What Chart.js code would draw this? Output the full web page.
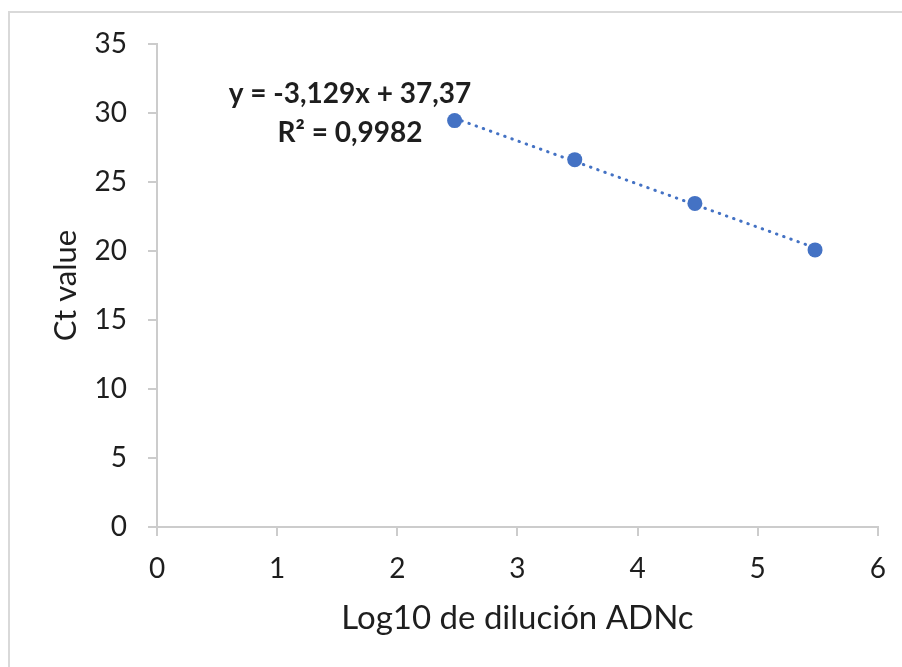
<!DOCTYPE html>
<html>
<head>
<meta charset="utf-8">
<script src="https://cdn.jsdelivr.net/npm/chart.js@4.4.1/dist/chart.umd.min.js"></script>
<style>
  html, body { margin: 0; padding: 0; background: #fff; }
  canvas { display: block; }
</style>
</head>
<body>
<canvas id="c" width="902" height="667"></canvas>
<script>
// Standard curve: log10 of the cDNA dilution vs. Ct value
const logDilution = [2.477, 3.477, 4.477, 5.477];
const ctValues = [29.45, 26.62, 23.45, 20.08];

// Linear fit reported for the curve
const fitSlope = -3.129;
const fitIntercept = 37.37;
const fitR2 = 0.9982;

const xTickValues = [0, 1, 2, 3, 4, 5, 6];
const yTickValues = [0, 5, 10, 15, 20, 25, 30, 35];

const xTitle = 'Log10 de dilución ADNc';
const yTitle = 'Ct value';

const BLUE = '#4472C4';
const AXIS = '#cccccc';
const TEXT = '#1e1e1e';
const FONT = 'Lato, "Open Sans", sans-serif';

const comma = v => String(v).replace('.', ',');
const eqLine1 = 'y = ' + comma(fitSlope) + 'x + ' + comma(fitIntercept);
const eqLine2 = 'R\u00B2 = ' + comma(fitR2);

const points = logDilution.map((x, i) => ({ x, y: ctValues[i] }));
const xFirst = logDilution[0];
const xLast = logDilution[logDilution.length - 1];
const trend = [
  { x: xFirst, y: fitIntercept + fitSlope * xFirst },
  { x: xLast, y: fitIntercept + fitSlope * xLast }
];

// Light frame around the chart
const framePlugin = {
  id: 'frame',
  beforeDraw(chart) {
    const ctx = chart.ctx;
    ctx.save();
    ctx.fillStyle = '#ffffff';
    ctx.fillRect(0, 0, chart.width, chart.height);
    ctx.strokeStyle = '#d9d9d9';
    ctx.lineWidth = 2;
    ctx.beginPath();
    ctx.moveTo(9, chart.height);
    ctx.lineTo(9, 12);
    ctx.lineTo(chart.width, 12);
    ctx.stroke();
    ctx.restore();
  }
};

// Equation and R² of the fitted line
const equationPlugin = {
  id: 'equation',
  afterDatasetsDraw(chart) {
    const { ctx, chartArea } = chart;
    ctx.save();
    ctx.font = 'bold 28px ' + FONT;
    ctx.fillStyle = TEXT;
    ctx.textAlign = 'center';
    ctx.textBaseline = 'alphabetic';
    const cx = chartArea.left + 193;
    ctx.fillText(eqLine1, cx, chartArea.top + 59);
    ctx.fillText(eqLine2, cx, chartArea.top + 98);
    ctx.restore();
  }
};

new Chart(document.getElementById('c'), {
  type: 'scatter',
  data: {
    datasets: [
      {
        label: 'Ct',
        data: points,
        order: 0,
        showLine: false,
        pointRadius: 7.5,
        pointHoverRadius: 7.5,
        pointBackgroundColor: BLUE,
        pointBorderColor: BLUE,
        pointBorderWidth: 0
      },
      {
        label: 'Lineal',
        data: trend,
        order: 1,
        showLine: true,
        pointRadius: 0,
        borderColor: BLUE,
        borderWidth: 3,
        borderDash: [0.5, 7.1],
        borderCapStyle: 'round',
        fill: false
      }
    ]
  },
  options: {
    responsive: false,
    animation: false,
    layout: { padding: { left: 0, top: 44, right: 23, bottom: 0 } },
    plugins: {
      legend: { display: false },
      tooltip: { enabled: false }
    },
    scales: {
      x: {
        type: 'linear',
        min: xTickValues[0],
        max: xTickValues[xTickValues.length - 1],
        afterBuildTicks: s => { s.ticks = xTickValues.map(v => ({ value: v })); },
        afterFit: s => { s.height = 140; },
        border: { color: AXIS, width: 2 },
        grid: { drawOnChartArea: false, color: AXIS, lineWidth: 2, tickLength: 9 },
        ticks: { color: TEXT, padding: 16, font: { family: FONT, size: 28, lineHeight: 1.2 } },
        title: {
          display: true,
          text: xTitle,
          color: TEXT,
          font: { family: FONT, size: 33, lineHeight: 1 },
          padding: { top: 0, bottom: 32 }
        }
      },
      y: {
        type: 'linear',
        min: yTickValues[0],
        max: yTickValues[yTickValues.length - 1],
        afterBuildTicks: s => { s.ticks = yTickValues.map(v => ({ value: v })); },
        afterFit: s => { s.width = 157; },
        border: { color: AXIS, width: 2 },
        grid: { drawOnChartArea: false, color: AXIS, lineWidth: 2, tickLength: 9 },
        ticks: { color: TEXT, padding: 21, font: { family: FONT, size: 28, lineHeight: 1.2 } },
        title: {
          display: true,
          text: yTitle,
          color: TEXT,
          font: { family: FONT, size: 31, lineHeight: 1 },
          padding: { top: 50, bottom: 0 }
        }
      }
    }
  },
  plugins: [framePlugin, equationPlugin]
});
</script>
</body>
</html>
